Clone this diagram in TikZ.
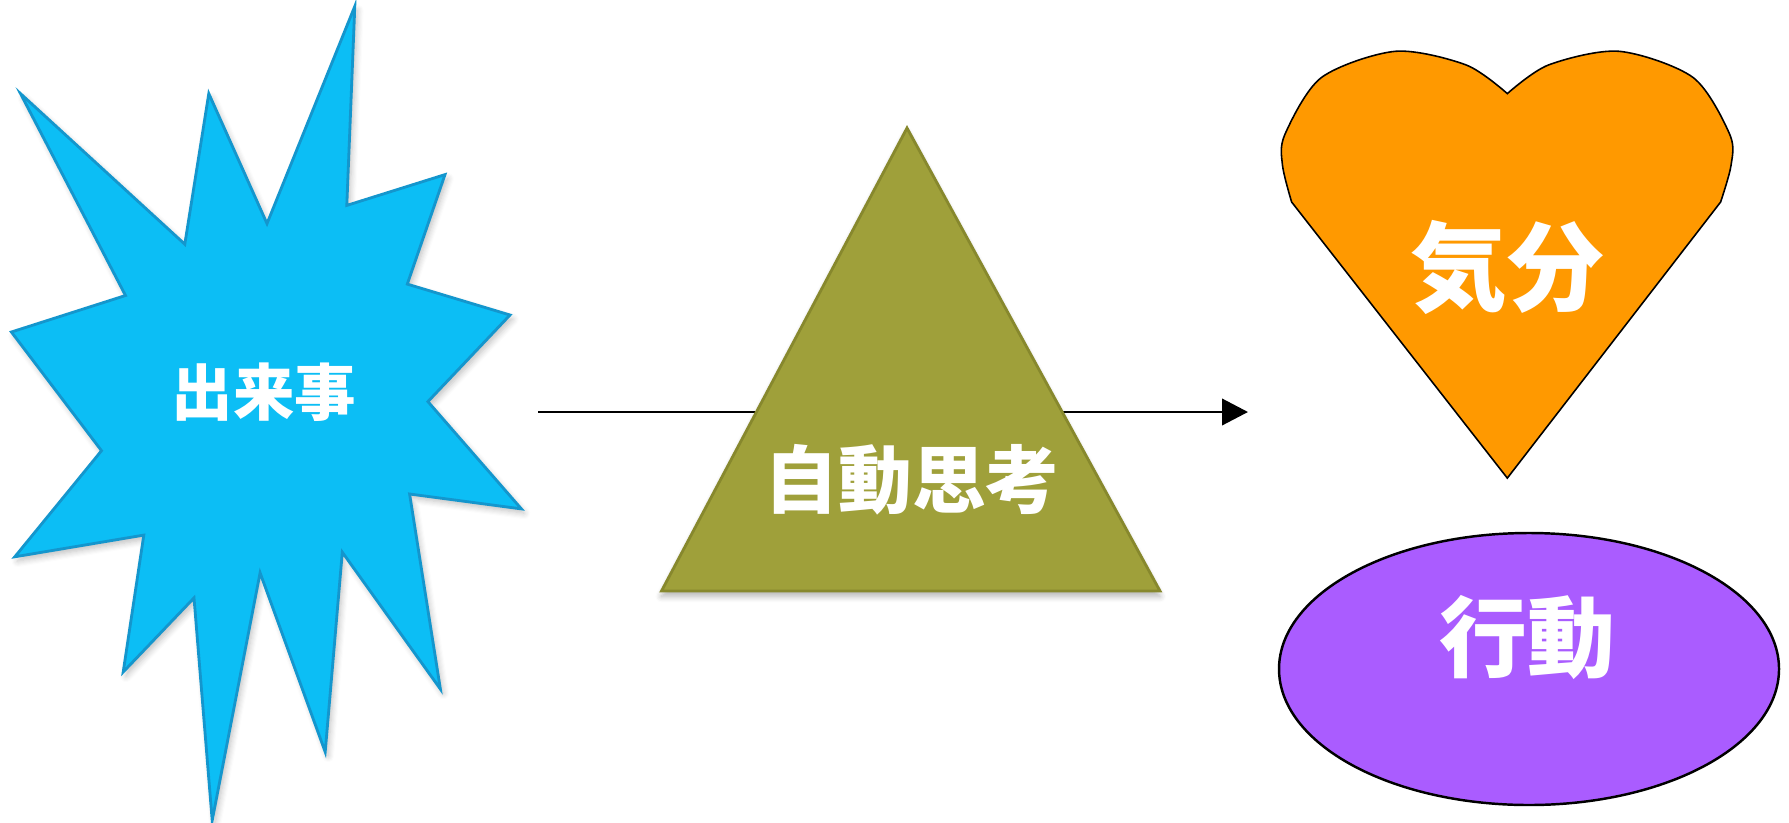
\documentclass[tikz,border=0pt]{standalone}
\usepackage{fontspec}
\newfontfamily\cjk{Noto Sans CJK JP}
\usetikzlibrary{arrows.meta,shadows.blur}
\definecolor{starblue}{RGB}{12,190,245}
\definecolor{stardark}{RGB}{20,150,205}
\definecolor{olive}{RGB}{159,160,58}
\definecolor{olivedark}{RGB}{135,136,45}
\definecolor{heartorange}{RGB}{255,153,0}
\definecolor{ovalpurple}{RGB}{170,92,255}
\tikzset{
  lbl/.style={text=white, inner sep=0pt, font=\cjk\bfseries},
  starshape/.style={fill=starblue, draw=stardark, line width=0.8pt, line join=miter,
    blur shadow={shadow xshift=0.8pt, shadow yshift=-1.2pt, shadow opacity=25, shadow blur steps=6}},
  triangleshape/.style={fill=olive, draw=olivedark, line width=0.8pt,
    blur shadow={shadow xshift=0pt, shadow yshift=-1.5pt, shadow opacity=30, shadow blur steps=6}},
  heartshape/.style={fill=heartorange, draw=black, line width=0.45pt},
  ovalshape/.style={fill=ovalpurple, draw=black, line width=0.7pt},
  flow/.style={draw=black, line width=0.8pt, -{Triangle[length=7.4pt,width=7.5pt]}}
}
\begin{document}
\begin{tikzpicture}[x=0.1mm, y=-0.1mm]
\useasboundingbox (0,0) rectangle (1789,822);

% connector (behind triangle)
\coordinate (arrowstart) at (538,412);
\coordinate (arrowend) at (1248,412);
\draw[flow] (arrowstart) -- (arrowend);

% star
\path[starshape] (20.5,93.6) -- (184.8,244.2) -- (208.8,93.6) -- (267,223.6)
  -- (354.8,6.3) -- (346.8,205.4) -- (445,174.6) -- (407.3,284.1)
  -- (510,315) -- (427.9,401.6) -- (521.4,508.9) -- (409.6,494)
  -- (440.4,689.1) -- (342.3,552.2) -- (325.2,751.9) -- (260.1,572.8)
  -- (212.2,820.4) -- (194,597.9) -- (123.2,672) -- (143.8,535.1)
  -- (14.8,556.8) -- (101.5,450.7) -- (11.4,332) -- (125.5,295.5) -- cycle;
\node[lbl, font=\cjk\bfseries\fontsize{17.5}{20}\selectfont] (event) at (264,392) {出来事};

% triangle
\path[triangleshape] (907,128) -- (1160,591) -- (661.5,591) -- cycle;
\node[lbl, font=\cjk\bfseries\fontsize{21}{24}\selectfont] (thought) at (912,480) {自動思考};

% heart
\path[heartshape] plot[smooth, tension=0.5] coordinates {(1507.3,93.6) (1466.2,65) (1395.4,51.3) (1321.3,77.6) (1284.8,134.6) (1282.5,165.4) (1291.6,202)}
  -- (1507.3,478.1)
  -- plot[smooth, tension=0.5] coordinates {(1720.6,202) (1731,165.4) (1729.8,134.6) (1693.2,77.6) (1619.1,51.3) (1548.4,65) (1507.3,93.6)} -- cycle;
\node[lbl, font=\cjk\bfseries\fontsize{27.5}{30}\selectfont] (mood) at (1507,267) {気分};

% ellipse
\path[ovalshape] (1529,669) ellipse [x radius=250, y radius=136];
\node[lbl, font=\cjk\bfseries\fontsize{25}{28}\selectfont] (action) at (1527,637.5) {行動};
\end{tikzpicture}
\end{document}
